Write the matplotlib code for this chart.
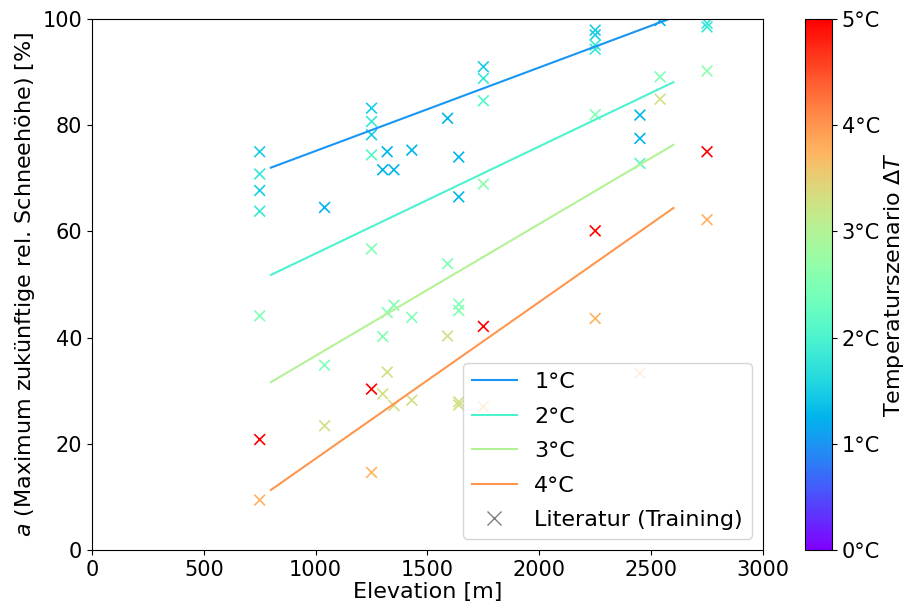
import matplotlib
matplotlib.use("Agg")
import matplotlib.pyplot as plt
from matplotlib.lines import Line2D
from matplotlib.colors import Normalize
from matplotlib.cm import ScalarMappable
import numpy as np

plt.rcParams['font.size'] = 16
plt.rcParams['xtick.labelsize'] = 15
plt.rcParams['ytick.labelsize'] = 15

# literature points: elevation [m], max future rel. snow depth [%], scenario dT [°C]
elev = [750, 750, 750, 750, 750, 750, 750,
        1040, 1040, 1040,
        1250, 1250, 1250, 1250, 1250, 1250, 1250,
        1300, 1300, 1300,
        1320, 1320, 1320,
        1350, 1350, 1350,
        1430, 1430, 1430,
        1590, 1590, 1590,
        1640, 1640, 1640, 1640, 1640, 1640,
        1750, 1750, 1750, 1750, 1750, 1750,
        2250, 2250, 2250, 2250, 2250, 2250, 2250,
        2450, 2450, 2450, 2450,
        2540, 2540, 2540,
        2750, 2750, 2750, 2750, 2750]
a_val = [75.0, 70.8, 67.7, 63.8, 44.1, 20.8, 9.4,
         64.5, 34.8, 23.4,
         83.2, 80.7, 78.2, 74.4, 56.7, 30.3, 14.6,
         71.6, 40.2, 29.4,
         75.0, 44.7, 33.5,
         71.6, 46.1, 27.2,
         75.3, 43.8, 28.2,
         81.3, 53.9, 40.3,
         74.0, 66.5, 46.3, 45.1, 27.9, 27.3,
         91.0, 88.8, 84.6, 68.9, 42.1, 27.0,
         97.9, 97.0, 95.1, 94.3, 82.0, 60.1, 43.6,
         81.9, 77.5, 72.8, 33.3,
         99.7, 89.1, 84.9,
         99.2, 98.5, 90.2, 75.0, 62.2]
dT = [1.5, 1.8, 1.5, 1.8, 2.5, 5.0, 3.75,
      1.25, 2.5, 3.3,
      1.5, 1.8, 1.5, 2.1, 2.5, 5.0, 3.75,
      1.25, 2.5, 3.3,
      1.25, 2.5, 3.3,
      1.25, 2.5, 3.3,
      1.25, 2.5, 3.3,
      1.25, 2.5, 3.3,
      1.25, 1.25, 2.5, 2.5, 3.3, 3.3,
      1.5, 1.8, 2.1, 2.6, 5.0, 3.75,
      1.5, 1.5, 1.8, 1.8, 2.5, 5.0, 3.75,
      1.25, 1.25, 2.1, 3.75,
      1.25, 2.5, 3.3,
      1.8, 1.8, 2.6, 5.0, 3.75]

# fitted model lines per scenario
scenarios = [1, 2, 3, 4]
line_x = [800, 2600]
line_y = {1: [72.0, 100.3],
          2: [51.8, 88.1],
          3: [31.6, 76.3],
          4: [11.3, 64.4]}

cmap = plt.get_cmap('rainbow')
norm = Normalize(vmin=0, vmax=5)

fig = plt.figure(figsize=(9.06, 6.10), dpi=100)
ax = fig.add_axes([0.1015, 0.0984, 0.7406, 0.8705])
cax = fig.add_axes([0.8885, 0.0984, 0.0298, 0.8705])

for s in scenarios:
    ax.plot(line_x, line_y[s], color=cmap(norm(s)), lw=1.5, label=f"{s}°C")

ax.scatter(elev, a_val, c=dT, cmap=cmap, norm=norm, marker='x', s=60, lw=1.2)

ax.set_xlim(0, 3000)
ax.set_ylim(0, 100)
ax.set_xlabel("Elevation [m]", labelpad=2)
ax.set_ylabel("$a$ (Maximum zukünftige rel. Schneehöhe) [%]")

handles, labels = ax.get_legend_handles_labels()
handles.append(Line2D([], [], ls='none', marker='x', color='gray', markersize=10))
labels.append("Literatur (Training)")
ax.legend(handles, labels, loc='lower right', fontsize=16, labelspacing=0.65)

cb = fig.colorbar(ScalarMappable(norm=norm, cmap=cmap), cax=cax)
cb.set_ticks([0, 1, 2, 3, 4, 5])
cb.set_ticklabels([f"{i}°C" for i in range(6)])
cb.set_label("Temperaturszenario $\\Delta T$", labelpad=1.5)

fig.savefig("out.png", dpi=100)
